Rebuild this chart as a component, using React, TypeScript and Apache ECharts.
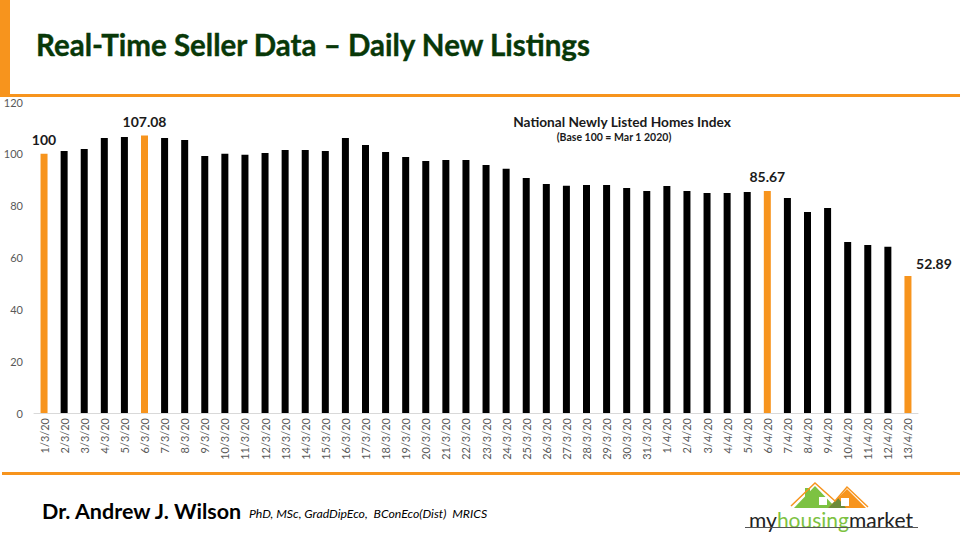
import React, { useEffect, useRef } from "react";
import * as echarts from "echarts";

const categories = [
  "1/3/20", "2/3/20", "3/3/20", "4/3/20", "5/3/20", "6/3/20", "7/3/20", "8/3/20", "9/3/20", "10/3/20",
  "11/3/20", "12/3/20", "13/3/20", "14/3/20", "15/3/20", "16/3/20", "17/3/20", "18/3/20", "19/3/20", "20/3/20",
  "21/3/20", "22/3/20", "23/3/20", "24/3/20", "25/3/20", "26/3/20", "27/3/20", "28/3/20", "29/3/20", "30/3/20",
  "31/3/20", "1/4/20", "2/4/20", "3/4/20", "4/4/20", "5/4/20", "6/4/20", "7/4/20", "8/4/20", "9/4/20",
  "10/4/20", "11/4/20", "12/4/20", "13/4/20",
];

const indexValues = [
  100, 101.1, 101.9, 106.1, 106.5, 107.08, 106.1, 105.3, 99.2, 100.0,
  99.6, 100.3, 101.5, 101.5, 101.1, 106.1, 103.4, 100.7, 98.8, 97.2,
  97.6, 97.6, 95.7, 94.2, 90.7, 88.4, 87.7, 88.0, 88.0, 86.8,
  85.7, 87.6, 85.7, 84.9, 84.9, 85.3, 85.67, 83.0, 77.6, 79.1,
  66.0, 64.8, 64.1, 52.89,
];

const highlightedDates = ["1/3/20", "6/3/20", "6/4/20", "13/4/20"];

const yTicks = [0, 20, 40, 60, 80, 100, 120];

const mainTitle = "Real-Time Seller Data \u2013 Daily New Listings";
const chartTitle = "National Newly Listed Homes Index";
const chartSubtitle = "(Base 100 = Mar 1 2020)";
const authorName = "Dr. Andrew J. Wilson";
const authorCredentials = "PhD, MSc, GradDipEco,  BConEco(Dist)  MRICS";

const ORANGE = "#F7941D";
const GREEN = "#083808";
const LOGO_GREEN = "#7DC242";

export default function App() {
  const ref = useRef<HTMLDivElement>(null);

  useEffect(() => {
    if (!ref.current) return;
    const chart = echarts.init(ref.current, null, { renderer: "svg" });

    const lastIdx = categories.length - 1;
    const data = indexValues.map((v, i) => {
      const hl = highlightedDates.includes(categories[i]);
      const item: any = {
        value: v,
        itemStyle: { color: hl ? ORANGE : "#000000" },
      };
      if (hl) {
        item.label = {
          show: true,
          position: "top",
          distance: 7,
          formatter: String(v),
          fontFamily: "Lato",
          fontWeight: "bold",
          fontSize: 14,
          color: "#1a1a1a",
        };
        if (i === lastIdx) {
          item.label.offset = [26, 2];
        }
      }
      return item;
    });

    chart.setOption({
      animation: false,
      backgroundColor: "#ffffff",
      grid: { left: 34, right: 42, top: 102, bottom: 127, containLabel: false },
      xAxis: {
        type: "category",
        data: categories,
        axisLine: { show: true, lineStyle: { color: "#d9d9d9", width: 1 } },
        axisTick: { show: false },
        axisLabel: {
          rotate: 90,
          interval: 0,
          fontFamily: "Lato",
          fontSize: 11,
          color: "#595959",
          margin: 5,
        },
      },
      yAxis: {
        type: "value",
        min: yTicks[0],
        max: yTicks[yTicks.length - 1],
        interval: 20,
        splitLine: { show: false },
        axisLine: { show: false },
        axisTick: { show: false },
        axisLabel: {
          fontFamily: "Lato",
          fontSize: 11,
          color: "#595959",
          margin: 11,
        },
      },
      series: [
        {
          type: "bar",
          data,
          barWidth: 7,
        },
      ],
      graphic: [
        { type: "rect", shape: { x: 0, y: 0, width: 10, height: 96 }, style: { fill: ORANGE } },
        { type: "rect", shape: { x: 0, y: 94, width: 960, height: 3 }, style: { fill: ORANGE } },
        { type: "rect", shape: { x: 2, y: 472, width: 958, height: 3 }, style: { fill: ORANGE } },
        {
          type: "text",
          x: 36,
          y: 44,
          style: {
            text: mainTitle,
            fontFamily: "Lato",
            fontWeight: "bold",
            fontSize: 29.5,
            fill: GREEN,
            stroke: GREEN,
            lineWidth: 0.4,
            textVerticalAlign: "middle",
          },
        },
        {
          type: "text",
          x: 622,
          y: 121,
          style: {
            text: chartTitle,
            fontFamily: "Lato",
            fontWeight: "bold",
            fontSize: 13.7,
            fill: "#1a1a1a",
            textAlign: "center",
            textVerticalAlign: "middle",
          },
        },
        {
          type: "text",
          x: 614,
          y: 137,
          style: {
            text: chartSubtitle,
            fontFamily: "Lato",
            fontWeight: "bold",
            fontSize: 10.5,
            fill: "#1a1a1a",
            textAlign: "center",
            textVerticalAlign: "middle",
          },
        },
        {
          type: "text",
          x: 42,
          y: 511,
          style: {
            text: authorName,
            fontFamily: "Lato",
            fontWeight: "bold",
            fontSize: 21.5,
            fill: "#000000",
            textVerticalAlign: "middle",
          },
        },
        {
          type: "text",
          x: 249,
          y: 513,
          style: {
            text: authorCredentials,
            fontFamily: "Lato",
            fontStyle: "italic",
            fontSize: 12.3,
            fill: "#000000",
            textVerticalAlign: "middle",
          },
        },
        // logo houses
        {
          type: "polygon",
          shape: { points: [[794, 508], [815, 486], [836, 508]] },
          style: { fill: LOGO_GREEN },
        },
        {
          type: "rect",
          shape: { x: 805, y: 488, width: 5, height: 10 },
          style: { fill: LOGO_GREEN },
        },
        {
          type: "polygon",
          shape: { points: [[828, 508], [847, 489], [866, 508]] },
          style: { fill: ORANGE },
        },
        {
          type: "polygon",
          shape: { points: [[828, 508], [838, 498], [846, 508]] },
          style: { fill: "#6d8a3a" },
        },
        {
          type: "polyline",
          shape: { points: [[791, 506], [815, 483], [835, 501], [847, 487], [868, 507]] },
          style: { stroke: ORANGE, lineWidth: 1.5, fill: "none" },
        },
        { type: "rect", shape: { x: 819, y: 497, width: 8, height: 8 }, style: { fill: "#ffffff" } },
        { type: "rect", shape: { x: 841, y: 498, width: 8, height: 8 }, style: { fill: "#ffffff" } },
        {
          type: "text",
          x: 831,
          y: 519,
          style: {
            rich: {
              a: { fontFamily: "Lato", fontSize: 21, fill: "#222222" },
              b: { fontFamily: "Lato", fontSize: 21, fill: LOGO_GREEN },
            },
            text: "{a|my}{b|housing}{a|market}",
            textAlign: "center",
            textVerticalAlign: "middle",
          },
        },
        { type: "rect", shape: { x: 745, y: 527, width: 173, height: 1 }, style: { fill: "#555555" } },
      ],
    });

    return () => chart.dispose();
  }, []);

  return <div ref={ref} style={{ width: 960, height: 540, position: "absolute", left: 0, top: 0 }} />;
}
